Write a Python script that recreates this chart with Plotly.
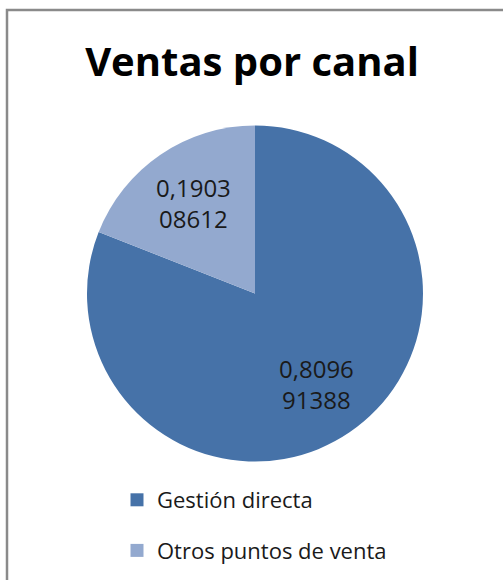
import math
import plotly.graph_objects as go

categories = ["Gestión directa", "Otros puntos de venta"]
values = [0.809691388, 0.190308612]
colors = ["#4672A8", "#93A9CF"]
title_text = "Ventas por canal"

W, H = 503, 580
FONT = "Open Sans"
# pie geometry (pixels)
CX, CY, R = 255, 293.5, 168
LABEL_K = 0.655
LINE_GAP = 31


def fmt(v):
    s = f"{v:.9f}".rstrip("0").replace(".", ",")
    return [s[:6], s[6:]]


fig = go.Figure()
fig.add_trace(go.Pie(
    labels=categories,
    values=values,
    textinfo="none",
    marker=dict(colors=colors, line=dict(width=0)),
    sort=False,
    direction="clockwise",
    rotation=0,
    showlegend=False,
    domain=dict(x=[(CX - R) / W, (CX + R) / W], y=[1 - (CY + R) / H, 1 - (CY - R) / H]),
))

# legend entries
for i, (cat, col) in enumerate(zip(categories, colors)):
    fig.add_trace(go.Scatter(
        x=[None], y=[None], mode="markers", name=cat,
        marker=dict(symbol="square", size=13, color=col),
        legendgroup=f"g{i}", showlegend=True, hoverinfo="skip",
    ))

# data labels at slice midpoints
annotations = []
total = sum(values)
cum = 0.0
for v in values:
    mid = 2 * math.pi * (cum + v / 2) / total
    cum += v
    px = CX + LABEL_K * R * math.sin(mid)
    py = CY - LABEL_K * R * math.cos(mid)
    lines = fmt(v)
    for j, ln in enumerate(lines):
        yy = py + (j - (len(lines) - 1) / 2) * LINE_GAP
        annotations.append(dict(
            text=ln, x=px / W, y=1 - yy / H, xref="paper", yref="paper",
            xanchor="center", yanchor="middle", showarrow=False,
            font=dict(family=FONT, size=24, color="#1a1a1a"),
        ))

fig.update_layout(
    width=W, height=H,
    margin=dict(l=0, r=0, t=0, b=0),
    paper_bgcolor="white",
    plot_bgcolor="white",
    xaxis=dict(visible=False),
    yaxis=dict(visible=False),
    title=dict(text="<b>" + title_text + "</b>", x=252 / W, xanchor="center",
               y=1 - 62 / H, yanchor="middle",
               font=dict(family=FONT, size=40, color="black")),
    legend=dict(x=117 / W, xanchor="left", y=1 - 479 / H, yanchor="top",
                orientation="v", tracegroupgap=19,
                font=dict(family=FONT, size=22, color="#1a1a1a"),
                bgcolor="rgba(0,0,0,0)"),
    annotations=annotations,
    shapes=[dict(type="rect", xref="paper", yref="paper",
                 x0=7 / W, x1=1.05, y0=-0.05, y1=1 - 10 / H,
                 line=dict(color="#8a8a8a", width=2.5))],
)

fig.write_html("out.html", config={"displayModeBar": False},
               post_script="document.body.style.margin='0px';")
